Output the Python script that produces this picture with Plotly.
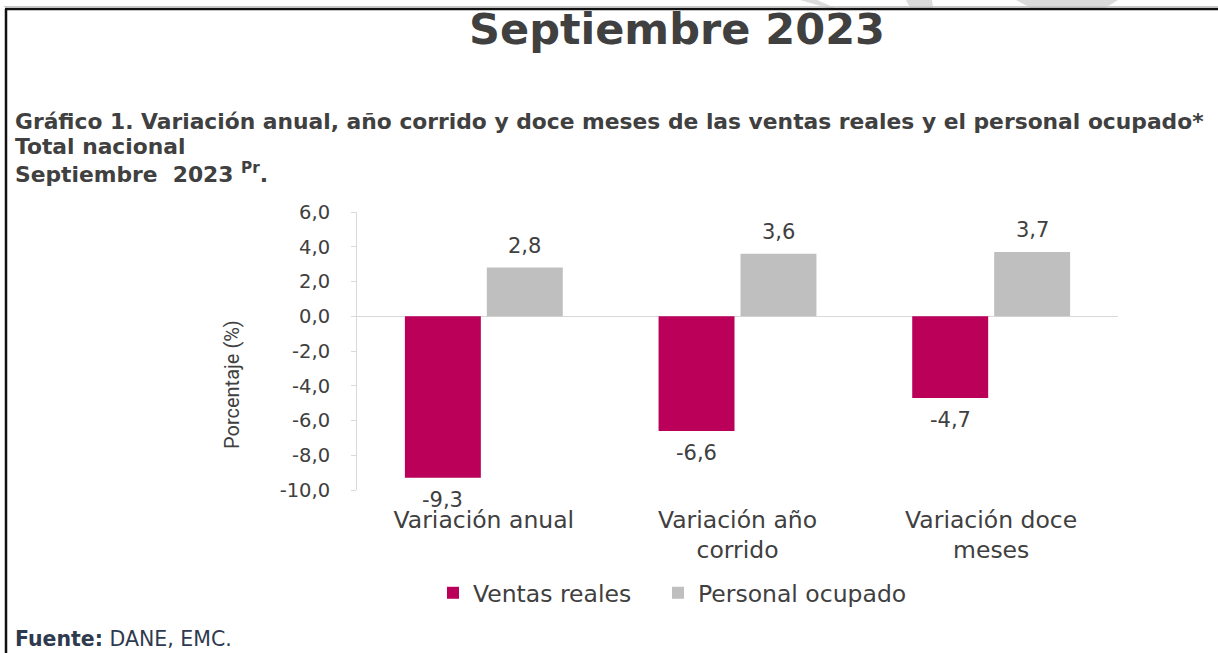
import plotly.graph_objects as go

categories = ["Variación anual", "Variación año<br>corrido", "Variación doce<br>meses"]
ventas_reales = [-9.3, -6.6, -4.7]
personal_ocupado = [2.8, 3.6, 3.7]
y_ticks = [-10, -8, -6, -4, -2, 0, 2, 4, 6]

W, H = 1218, 653
L, R, T, B = 357, 100, 212, 163
PW = W - L - R
PH = H - T - B


def px(x):
    return (x - L) / PW


def py(y):
    return (H - B - y) / PH


def fmt(v):
    return f"{v:.1f}".replace(".", ",")


RED = "#BA0058"
GRAY = "#BFBFBF"
TXT = "#404040"
FONT = "DejaVu Sans, Verdana, sans-serif"

BARGAP = 0.354
fig = go.Figure()
fig.add_trace(go.Bar(x=list(range(3)), y=ventas_reales, name="Ventas reales",
                     legendwidth=180,
                     marker=dict(color=RED, line=dict(width=0))))
fig.add_trace(go.Bar(x=list(range(3)), y=personal_ocupado, name="Personal ocupado",
                     marker=dict(color=GRAY, line=dict(width=0))))

annotations = []
off = (1 - BARGAP) / 4
for series, sign in ((ventas_reales, -1), (personal_ocupado, 1)):
    for i, v in enumerate(series):
        annotations.append(dict(
            x=i + sign * off, y=v, xref="x", yref="y",
            text=fmt(v), showarrow=False,
            yshift=22 if v >= 0 else -22, yanchor="middle",
            font=dict(family=FONT, size=21, color=TXT)))

annotations += [
    dict(x=px(677), y=py(29), xref="paper", yref="paper", text="<b>Septiembre 2023</b>",
         showarrow=False, xanchor="center", yanchor="middle",
         font=dict(family=FONT, size=43, color=TXT)),
    dict(x=px(13), y=py(121), xref="paper", yref="paper",
         text="<b>Gráfico 1. Variación anual, año corrido y doce meses de las ventas reales y el personal ocupado*</b>",
         showarrow=False, xanchor="left", yanchor="middle",
         font=dict(family=FONT, size=21.8, color=TXT)),
    dict(x=px(13), y=py(147), xref="paper", yref="paper", text="<b>Total nacional</b>",
         showarrow=False, xanchor="left", yanchor="middle",
         font=dict(family=FONT, size=21.8, color=TXT)),
    dict(x=px(13), y=py(173), xref="paper", yref="paper",
         text="<b>Septiembre  2023 <sup>Pr</sup>.</b>",
         showarrow=False, xanchor="left", yanchor="middle",
         font=dict(family=FONT, size=21.8, color=TXT)),
    dict(x=px(232), y=py(385), xref="paper", yref="paper", text="Porcentaje (%)",
         textangle=-90, showarrow=False, xanchor="center", yanchor="middle",
         font=dict(family="Roboto, sans-serif", size=20, color=TXT)),
    dict(x=px(13), y=py(639), xref="paper", yref="paper",
         text="<b>Fuente:</b> DANE, EMC.", showarrow=False, xanchor="left", yanchor="middle",
         font=dict(family=FONT, size=20.5, color="#2E3A4E")),
]

shapes = [
    dict(type="line", xref="paper", yref="paper", x0=px(4), x1=px(W), y0=py(6.5), y1=py(6.5),
         line=dict(color="#C8C8C8", width=1)),
    dict(type="line", xref="paper", yref="paper", x0=px(5), x1=px(W), y0=py(9), y1=py(9),
         line=dict(color="#111111", width=2.5)),
    dict(type="line", xref="paper", yref="paper", x0=px(6), x1=px(6), y0=py(9), y1=py(H),
         line=dict(color="#111111", width=2.5)),
]
for pts in ([(800, 0), (817, 0), (834, 7.5), (826, 7.5)],
            [(906, 0), (932, 0), (933, 7.5), (910, 7.5)],
            [(1016, 0), (1118, 0), (1106, 7.5), (1030, 7.5)]):
    path = "M " + " L ".join(f"{px(x)},{py(y)}" for x, y in pts) + " Z"
    shapes.append(dict(type="path", xref="paper", yref="paper", path=path,
                       fillcolor="#DCDCDC", line=dict(width=0), layer="below"))

fig.update_layout(
    width=W, height=H,
    margin=dict(l=L, r=R, t=T, b=B, pad=0),
    paper_bgcolor="white", plot_bgcolor="white",
    separators=",.",
    barmode="group", bargap=BARGAP, bargroupgap=0.073,
    showlegend=True,
    legend=dict(orientation="h", x=px(433), y=py(593), xanchor="left", yanchor="middle",
                font=dict(family=FONT, size=23.5, color=TXT), itemwidth=30,
                traceorder="normal"),
    font=dict(family=FONT, color=TXT),
    annotations=annotations,
    shapes=shapes,
)
fig.update_xaxes(
    tickmode="array", tickvals=list(range(3)), ticktext=categories,
    range=[-0.5, 2.5], showline=False, ticks="", showgrid=False, zeroline=False,
    tickfont=dict(family=FONT, size=23.5, color=TXT), ticklabelstandoff=13,
)
fig.update_yaxes(
    range=[-10, 6], tickmode="array", tickvals=y_ticks, ticktext=[fmt(v) for v in y_ticks],
    showline=True, linecolor="#D9D9D9", linewidth=1,
    ticks="outside", ticklen=5, tickcolor="#D9D9D9",
    showgrid=False, zeroline=True, zerolinecolor="#D9D9D9", zerolinewidth=1,
    tickfont=dict(family=FONT, size=19.5, color=TXT), ticklabelstandoff=17,
)

fig.write_html("out.html", post_script="document.body.style.margin='0';",
               config={"displayModeBar": False})
